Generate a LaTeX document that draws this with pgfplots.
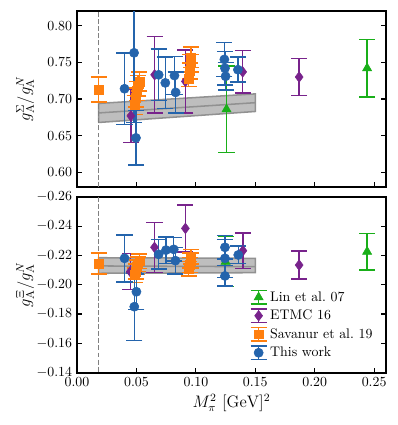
\documentclass[border=0pt]{standalone}
\usepackage{pgfplots}
\pgfplotsset{compat=1.18}
\definecolor{cblue}{RGB}{36,100,172}
\definecolor{corange}{RGB}{255,127,14}
\definecolor{cpurple}{RGB}{120,35,140}
\definecolor{cgreen}{RGB}{25,175,25}
\definecolor{bandfill}{RGB}{190,190,190}
\definecolor{bandedge}{RGB}{145,145,145}

\pgfplotsset{
  panel/.style={
    width=222.5pt, height=126.7pt, scale only axis,
    xmin=0, xmax=0.26,
    xtick={0,0.05,0.1,0.15,0.2,0.25},
    tick align=inside, xtick pos=lower, ytick pos=both,
    major tick length=3.5pt,
    every tick/.style={black, line width=0.8pt},
    axis line style={line width=1.2pt},
    tick label style={font=\normalsize},
    xticklabel style={/pgf/number format/.cd, fixed, fixed zerofill, precision=2},
    yticklabel style={/pgf/number format/.cd, fixed, fixed zerofill, precision=2},
    ylabel style={at={(axis description cs:-0.168,0.5)}, anchor=center, font=\large},
  },
  ser/.style={only marks, color=#1,
    mark options={solid, fill=#1, draw=#1, line width=0.4pt},
    error bars/y dir=both, error bars/y explicit,
    error bars/error bar style={line width=1.05pt, color=#1, solid},
    error bars/error mark options={rotate=90, line width=1.05pt, mark size=5.8pt, color=#1, solid}},
  sgreen/.style={ser=cgreen, mark=triangle*, mark size=3.8pt},
  spurple/.style={ser=cpurple, mark=diamond*, mark size=3.8pt},
  sorange/.style={ser=corange, mark=square*, mark size=3.2pt},
  sblue/.style={ser=cblue, mark=*, mark size=3.3pt},
  errleg/.style={legend image code/.code={
    \draw[##1, line width=1.05pt] (0pt,-4.8pt) -- (0pt,4.8pt);
    \draw[##1, line width=1.05pt] (-5.8pt,-4.8pt) -- (5.8pt,-4.8pt);
    \draw[##1, line width=1.05pt] (-5.8pt,4.8pt) -- (5.8pt,4.8pt);
    \draw[##1] plot coordinates {(0pt,0pt)};}},
}

\begin{document}
\begin{tikzpicture}
\useasboundingbox (-55.44pt,-171.36pt) rectangle (231.12pt,134.64pt);

% upper panel: Sigma
\begin{axis}[panel,
    at={(0pt,0pt)}, anchor=south west,
    ymin=0.58, ymax=0.82,
    ytick={0.60,0.65,0.70,0.75,0.80},
    xticklabels={},
    ylabel={$g_\mathrm{A}^\Sigma/g_\mathrm{A}^N$},
]
% chiral fit band
\addplot[fill=bandfill, draw=bandedge, line width=1.1pt] coordinates {
    (0.0182,0.668) (0.15,0.683) (0.15,0.707) (0.0182,0.694) (0.0182,0.668)};
\addplot[bandedge, line width=1.1pt] coordinates {(0.0182,0.681) (0.15,0.695)};
% physical point
\addplot[gray, dashed, line width=0.8pt, dash pattern=on 3.5pt off 1.6pt] coordinates {(0.0182,0.58) (0.0182,0.82)};

\addplot[sgreen] coordinates {
    (0.1258,0.686) +- (0,0.059)
    (0.2441,0.742) +- (0,0.039)
};
\addplot[spurple] coordinates {
    (0.0453,0.677) +- (0,0.036)
    (0.0653,0.733) +- (0,0.052)
    (0.0912,0.724) +- (0,0.043)
    (0.1394,0.737) +- (0,0.029)
    (0.1869,0.730) +- (0,0.025)
};
\addplot[sorange] coordinates {
    (0.0182,0.713) +- (0,0.017)
    (0.0485,0.692) +- (0,0.013)
    (0.0495,0.702) +- (0,0.013)
    (0.0505,0.711) +- (0,0.013)
    (0.0515,0.718) +- (0,0.014)
    (0.0525,0.724) +- (0,0.013)
    (0.0940,0.727) +- (0,0.010)
    (0.0950,0.738) +- (0,0.011)
    (0.0955,0.749) +- (0,0.012)
    (0.0960,0.757) +- (0,0.014)
};
\addplot[sblue] coordinates {
    (0.0400,0.714) +- (0,0.049)
    (0.0480,0.763) +- (0,0.095)
    (0.0496,0.647) +- (0,0.037)
    (0.0687,0.733) +- (0,0.035)
    (0.0743,0.722) +- (0,0.035)
    (0.0820,0.732) +- (0,0.026)
    (0.0830,0.709) +- (0,0.028)
    (0.1240,0.754) +- (0,0.023)
    (0.1245,0.742) +- (0,0.023)
    (0.1250,0.731) +- (0,0.019)
    (0.1354,0.740) +- (0,0.017)
};
\end{axis}

% lower panel: Xi
\begin{axis}[panel,
    at={(0pt,-133.7pt)}, anchor=south west,
    y dir=reverse,
    ymin=-0.26, ymax=-0.14,
    ytick={-0.26,-0.24,-0.22,-0.20,-0.18,-0.16,-0.14},
    xlabel={$M_\pi^2\ [\mathrm{GeV}]^2$},
    xlabel style={at={(axis description cs:0.5,-0.172)}, anchor=center, font=\large},
    ylabel={$g_\mathrm{A}^\Xi/g_\mathrm{A}^N$},
    legend cell align=left,
    legend style={at={(axis description cs:0.545,0.495)}, anchor=north west,
        draw=none, fill=none, font=\normalsize, row sep=0.8pt},
]
\addplot[fill=bandfill, draw=bandedge, line width=1.1pt, forget plot] coordinates {
    (0.0182,-0.2078) (0.15,-0.2082) (0.15,-0.2180) (0.0182,-0.2184) (0.0182,-0.2078)};
\addplot[bandedge, line width=1.1pt, forget plot] coordinates {(0.0182,-0.2128) (0.15,-0.2123)};
\addplot[gray, dashed, line width=0.8pt, dash pattern=on 3.5pt off 1.6pt, forget plot] coordinates {(0.0182,-0.26) (0.0182,-0.14)};

\addplot[sgreen, forget plot] coordinates {
    (0.1250,-0.2157) +- (0,0.017)
    (0.2441,-0.2225) +- (0,0.0125)
};
\addplot[spurple, forget plot] coordinates {
    (0.0448,-0.2089) +- (0,0.0122)
    (0.0652,-0.2255) +- (0,0.017)
    (0.0912,-0.2384) +- (0,0.016)
    (0.1396,-0.2232) +- (0,0.012)
    (0.1869,-0.2134) +- (0,0.0095)
};
\addplot[sorange, forget plot] coordinates {
    (0.0182,-0.2145) +- (0,0.0072)
    (0.0485,-0.2065) +- (0,0.005)
    (0.0495,-0.2090) +- (0,0.005)
    (0.0505,-0.2120) +- (0,0.005)
    (0.0515,-0.2140) +- (0,0.005)
    (0.0525,-0.2160) +- (0,0.005)
    (0.0940,-0.2110) +- (0,0.005)
    (0.0950,-0.2135) +- (0,0.005)
    (0.0955,-0.2165) +- (0,0.005)
    (0.0960,-0.2190) +- (0,0.005)
};
\addplot[sblue, forget plot] coordinates {
    (0.0400,-0.2180) +- (0,0.016)
    (0.0482,-0.1850) +- (0,0.023)
    (0.0500,-0.1952) +- (0,0.012)
    (0.0687,-0.2207) +- (0,0.010)
    (0.0749,-0.2236) +- (0,0.009)
    (0.0814,-0.2241) +- (0,0.008)
    (0.0828,-0.2164) +- (0,0.009)
    (0.1245,-0.2255) +- (0,0.008)
    (0.1245,-0.2180) +- (0,0.013)
    (0.1245,-0.2060) +- (0,0.007)
    (0.1357,-0.2203) +- (0,0.006)
};

\addlegendimage{errleg, cgreen, mark=triangle*, mark size=3.8pt, mark options={solid, fill=cgreen}}
\addlegendentry{Lin et al.\ 07}
\addlegendimage{errleg, cpurple, mark=diamond*, mark size=3.8pt, mark options={solid, fill=cpurple}}
\addlegendentry{ETMC 16}
\addlegendimage{errleg, corange, mark=square*, mark size=3.2pt, mark options={solid, fill=corange}}
\addlegendentry{Savanur et al.\ 19}
\addlegendimage{errleg, cblue, mark=*, mark size=3.3pt, mark options={solid, fill=cblue}}
\addlegendentry{This work}
\end{axis}
\end{tikzpicture}
\end{document}
